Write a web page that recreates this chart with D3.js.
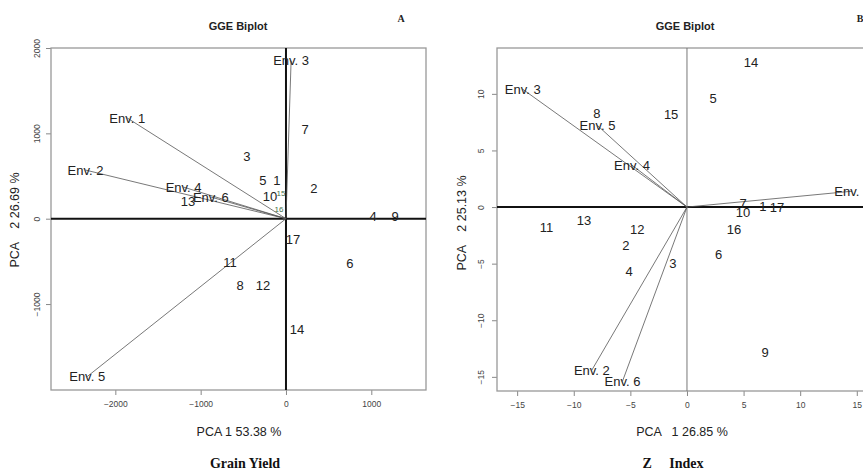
<!DOCTYPE html>
<html>
<head>
<meta charset="utf-8">
<script src="https://cdn.jsdelivr.net/npm/d3@7"></script>
<style>
  html, body { margin: 0; padding: 0; background: #fff; }
  svg { display: block; }
  text { white-space: pre; }
</style>
</head>
<body>
<svg id="chart" width="863" height="473"></svg>
<script>
// Panel A: grain yield — genotype scores (PC1, PC2)
const genoA   = ["1","2","3","4","5","6","7","8","9","10","11","12","13","14","15","16","17"];
const genoAx  = [-106, 328, -457, 1020, -270, 750, 223, -539, 1278, -188, -656, -270, -1149, 129, -59, -82, 82];
const genoAy  = [453, 360, 734, 32, 453, -520, 1050, -778, 32, 266, -508, -778, 208, -1295, 300, 114, -238];
// Panel A: environment vectors
const envA    = ["Env. 1","Env. 2","Env. 3","Env. 4","Env. 5","Env. 6"];
const envAx   = [-1860, -2350, 60, -1200, -2330, -880];
const envAy   = [1180, 570, 1850, 370, -1850, 254];
const ticksAx = [-2000, -1000, 0, 1000];
const ticksAy = [-1000, 0, 1000, 2000];

// Panel B: Z index — genotype scores (PC1, PC2)
const genoB   = ["1","2","3","4","5","6","7","8","9","10","11","12","13","14","15","16","17"];
const genoBx  = [6.7, -5.4, -1.25, -5.1, 2.3, 2.8, 4.95, -7.95, 6.9, 4.95, -12.4, -4.4, -9.1, 5.65, -1.4, 4.15, 7.95];
const genoBy  = [0.1, -3.4, -5.0, -5.7, 9.6, -4.15, 0.35, 8.3, -12.8, -0.5, -1.8, -2.0, -1.2, 12.8, 8.2, -2.0, 0.0];
// Panel B: environment vectors
const envB    = ["Env. 1","Env. 2","Env. 3","Env. 4","Env. 5","Env. 6"];
const envBx   = [14.6, -8.4, -14.5, -4.86, -7.9, -5.7];
const envBy   = [1.4, -14.4, 10.4, 3.7, 7.2, -15.4];
const ticksBx = [-15, -10, -5, 0, 5, 10, 15];
const ticksBy = [-15, -10, -5, 0, 5, 10];

const svg = d3.select("#chart");
const SANS = "'Liberation Sans', Arial, sans-serif";
const SERIF = "'Liberation Serif', 'Times New Roman', serif";

function drawPanel(cfg) {
  const g = svg.append("g");
  const x = d3.scaleLinear().domain(cfg.xDomain).range([cfg.left, cfg.right]);
  const y = d3.scaleLinear().domain(cfg.yDomain).range([cfg.bottom, cfg.top]);

  // titles
  g.append("text").attr("x", cfg.titleX).attr("y", 30)
    .attr("text-anchor", "middle").attr("font-family", SANS)
    .attr("font-weight", "bold").attr("font-size", 11).attr("fill", "#222")
    .text("GGE Biplot");
  g.append("text").attr("x", cfg.tagX).attr("y", 22)
    .attr("text-anchor", "middle").attr("font-family", SERIF)
    .attr("font-weight", "bold").attr("font-size", 10).attr("fill", "#222")
    .text(cfg.tag);

  // axes (ticks + labels) via d3 axis generators
  const xAxis = d3.axisBottom(x).tickValues(cfg.ticksX).tickSize(5).tickPadding(6)
    .tickFormat(d3.format("d"));
  const gx = g.append("g").attr("transform", `translate(0,${cfg.bottom})`).call(xAxis);
  const yAxis = d3.axisLeft(y).tickValues(cfg.ticksY).tickSize(5).tickPadding(6)
    .tickFormat(d3.format("d"));
  const gy = g.append("g").attr("transform", `translate(${cfg.left},0)`).call(yAxis);
  [gx, gy].forEach(a => {
    a.select(".domain").remove();
    a.selectAll(".tick line").attr("stroke", "#888").attr("stroke-width", 1);
    a.selectAll(".tick text").attr("fill", "#444").attr("font-family", SANS).attr("font-size", 8.5);
  });
  gy.selectAll(".tick text")
    .attr("text-anchor", "middle").attr("x", null).attr("dy", null)
    .attr("transform", `translate(${cfg.yTickX - cfg.left},0) rotate(-90)`)
    .attr("y", 0);

  // frame
  g.append("rect").attr("x", cfg.left).attr("y", cfg.top)
    .attr("width", cfg.right - cfg.left).attr("height", cfg.bottom - cfg.top)
    .attr("fill", "none").attr("stroke", "#999").attr("stroke-width", 1.3);

  // reference axes through the origin
  g.append("line").attr("x1", cfg.left).attr("x2", cfg.right)
    .attr("y1", y(0)).attr("y2", y(0)).attr("stroke", "#111").attr("stroke-width", 2);
  g.append("line").attr("x1", x(0)).attr("x2", x(0))
    .attr("y1", cfg.top).attr("y2", cfg.bottom)
    .attr("stroke", cfg.vAxisColor).attr("stroke-width", cfg.vAxisWidth);

  // environment vectors
  const envs = cfg.env.map((n, i) => ({ name: n, x: cfg.envX[i], y: cfg.envY[i] }));
  g.selectAll("line.env").data(envs).join("line").attr("class", "env")
    .attr("x1", x(0)).attr("y1", y(0))
    .attr("x2", d => x(d.x)).attr("y2", d => y(d.y))
    .attr("stroke", "#555").attr("stroke-width", 0.8);
  g.selectAll("text.env").data(envs).join("text").attr("class", "env")
    .attr("x", d => x(d.x)).attr("y", d => y(d.y)).attr("dy", "0.36em")
    .attr("text-anchor", "middle").attr("font-family", SANS).attr("font-size", 13)
    .attr("fill", "#222").text(d => d.name);

  // genotype labels
  const genos = cfg.geno.map((n, i) => ({ name: n, x: cfg.genoX[i], y: cfg.genoY[i] }));
  g.selectAll("text.geno").data(genos).join("text").attr("class", "geno")
    .attr("x", d => x(d.x)).attr("y", d => y(d.y)).attr("dy", "0.36em")
    .attr("text-anchor", "middle").attr("font-family", SANS)
    .attr("font-size", d => (cfg.small.includes(d.name) ? 8 : 13))
    .attr("fill", d => (cfg.small.includes(d.name) ? "#3f6e48" : "#222"))
    .text(d => d.name);

  // axis titles
  g.append("text").attr("x", cfg.xTitleX).attr("y", 436)
    .attr("text-anchor", "middle").attr("font-family", SANS).attr("font-size", 12.5)
    .attr("fill", "#222").text(cfg.xTitle);
  g.append("text")
    .attr("transform", `translate(${cfg.yTitleX},${cfg.yTitleY}) rotate(-90)`)
    .attr("text-anchor", "middle").attr("font-family", SANS).attr("font-size", 12.5)
    .attr("fill", "#222").text(cfg.yTitle);
  g.append("text").attr("x", cfg.captionX).attr("y", 468)
    .attr("text-anchor", "middle").attr("font-family", SERIF).attr("font-weight", "bold")
    .attr("font-size", 14).attr("fill", "#111").text(cfg.caption);
}

drawPanel({
  left: 51, right: 426, top: 48, bottom: 390,
  xDomain: [-2754, 1641], yDomain: [-2007, 2000],
  ticksX: ticksAx, ticksY: ticksAy, yTickX: 40,
  geno: genoA, genoX: genoAx, genoY: genoAy, small: ["15", "16"],
  env: envA, envX: envAx, envY: envAy,
  vAxisColor: "#111", vAxisWidth: 2,
  titleX: 238, tag: "A", tagX: 401,
  xTitle: "PCA 1 53.38 %", xTitleX: 239,
  yTitle: "PCA    2 26.69 %", yTitleX: 19, yTitleY: 220,
  caption: "Grain Yield", captionX: 245
});

drawPanel({
  left: 497, right: 880, top: 48, bottom: 391,
  xDomain: [-16.78, 17.05], yDomain: [-16.25, 14.05],
  ticksX: ticksBx, ticksY: ticksBy, yTickX: 484,
  geno: genoB, genoX: genoBx, genoY: genoBy, small: [],
  env: envB, envX: envBx, envY: envBy,
  vAxisColor: "#777", vAxisWidth: 1,
  titleX: 685, tag: "B", tagX: 860,
  xTitle: "PCA   1 26.85 %", xTitleX: 682,
  yTitle: "PCA    2 25.13 %", yTitleX: 466, yTitleY: 223,
  caption: "Z     Index", captionX: 673
});
</script>
</body>
</html>
